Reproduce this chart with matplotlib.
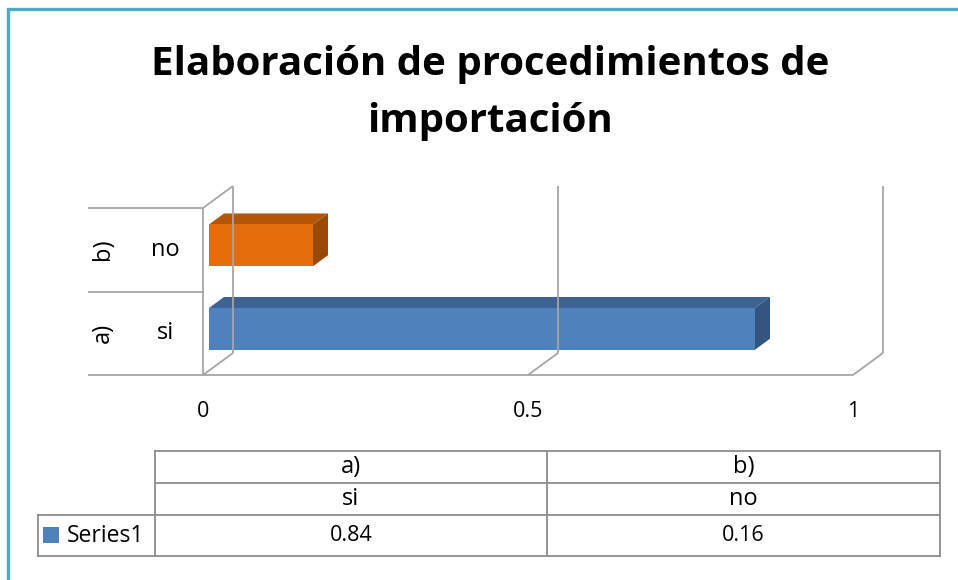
import matplotlib.pyplot as plt
from matplotlib.patches import Polygon, Rectangle

plt.rcParams['font.family'] = ['Open Sans', 'DejaVu Sans']

TITLE = "Elaboración de procedimientos de\nimportación"
codes = ["a)", "b)"]
answers = ["si", "no"]
values = [0.84, 0.16]
series_name = "Series1"
xticks = [0, 0.5, 1]
xtick_labels = ["0", "0.5", "1"]

front_cols = ["#4F81BD", "#E46C0A"]
top_cols = ["#3C6394", "#B45508"]
side_cols = ["#33557F", "#9A4806"]
grid_col = "#A6A6A6"
W, H = 958, 580
FS = 15.5   # numbers
FL = 17     # words

fig = plt.figure(figsize=(W / 100, H / 100), dpi=100)

# overlay axes in pixel coordinates for frame, title and table
bg = fig.add_axes([0, 0, 1, 1])
bg.set_xlim(0, W)
bg.set_ylim(H, 0)
bg.axis("off")
bg.plot([8.5, 8.5, W], [H, 8.5, 8.5], color="#4BACC6", lw=2.4, solid_joinstyle="miter")
bg.text(490, 93, TITLE, ha="center", va="center", fontsize=29, fontweight="bold",
        linespacing=1.6)

# plot area: front plane 203..853 px wide, 208..375 px high
ax = fig.add_axes([203 / W, (H - 375) / H, 650 / W, 167 / H])
ax.set_xlim(0, 1)
ax.set_ylim(-0.5, len(codes) - 0.5)
for s in ax.spines.values():
    s.set_visible(False)
ax.set_yticks([])
ax.set_xticks(xticks)
ax.set_xticklabels(xtick_labels, fontsize=FS)
ax.tick_params(axis="x", length=0, pad=19)

dx = 30 / 650
dy = 22 / 83.5
y0, y1 = -0.5, len(codes) - 0.5
kw = dict(color=grid_col, lw=1.3, clip_on=False, solid_capstyle="butt")

# walls / gridlines
for t in xticks:
    ax.plot([t, t + dx], [y0, y0 + dy], **kw)
    ax.plot([t + dx, t + dx], [y0 + dy, y1 + dy], **kw)
ax.plot([0, 1], [y0, y0], **kw)
ax.plot([0, 0], [y0, y1], **kw)
ax.plot([0, dx], [y1, y1 + dy], **kw)

# category label lines on the left
xl = (88 - 203) / 650
for b in range(len(codes) + 1):
    ax.plot([xl, 0], [b - 0.5, b - 0.5], **kw)

for i, (c, a) in enumerate(zip(codes, answers)):
    ax.text((103 - 203) / 650, i, c, rotation=90, ha="center", va="center", fontsize=FL)
    ax.text((165 - 203) / 650, i, a, ha="center", va="center", fontsize=FL)

# 3d bars
d0, d1 = 0.2, 0.7
for i, v in enumerate(values):
    x0 = d0 * dx
    yb = i - 0.25 + d0 * dy
    yt = i + 0.25 + d0 * dy
    ox = (d1 - d0) * dx
    oy = (d1 - d0) * dy
    ax.add_patch(Polygon([(x0, yt), (x0 + v, yt), (x0 + v + ox, yt + oy), (x0 + ox, yt + oy)],
                         closed=True, fc=top_cols[i], ec="none", clip_on=False))
    ax.add_patch(Polygon([(x0 + v, yb), (x0 + v + ox, yb + oy), (x0 + v + ox, yt + oy), (x0 + v, yt)],
                         closed=True, fc=side_cols[i], ec="none", clip_on=False))
    ax.add_patch(Rectangle((x0, yb), v, yt - yb, fc=front_cols[i], ec="none", clip_on=False))

# data table below the chart
tc = "#8C8C8C"
tk = dict(color=tc, lw=1.3, solid_capstyle="projecting")
cx = [155, 547, 940]
ry = [451, 483, 515, 556]
for yy in ry:
    bg.plot([cx[0], cx[-1]], [yy, yy], **tk)
for xx in cx:
    bg.plot([xx, xx], [ry[0], ry[-1]], **tk)
bg.plot([38, cx[0]], [ry[2], ry[2]], **tk)
bg.plot([38, cx[0]], [ry[3], ry[3]], **tk)
bg.plot([38, 38], [ry[2], ry[3]], **tk)
for j in range(len(codes)):
    xc = (cx[j] + cx[j + 1]) / 2
    bg.text(xc, (ry[0] + ry[1]) / 2, codes[j], ha="center", va="center", fontsize=FL)
    bg.text(xc, (ry[1] + ry[2]) / 2, answers[j], ha="center", va="center", fontsize=FL)
    bg.text(xc, (ry[2] + ry[3]) / 2, f"{values[j]:.2f}", ha="center", va="center", fontsize=FS)
bg.add_patch(Rectangle((43, 527), 16, 16, fc=front_cols[0], ec="none"))
bg.text(67, (ry[2] + ry[3]) / 2, series_name, ha="left", va="center", fontsize=16.5)

fig.savefig("out.png", dpi=100)
